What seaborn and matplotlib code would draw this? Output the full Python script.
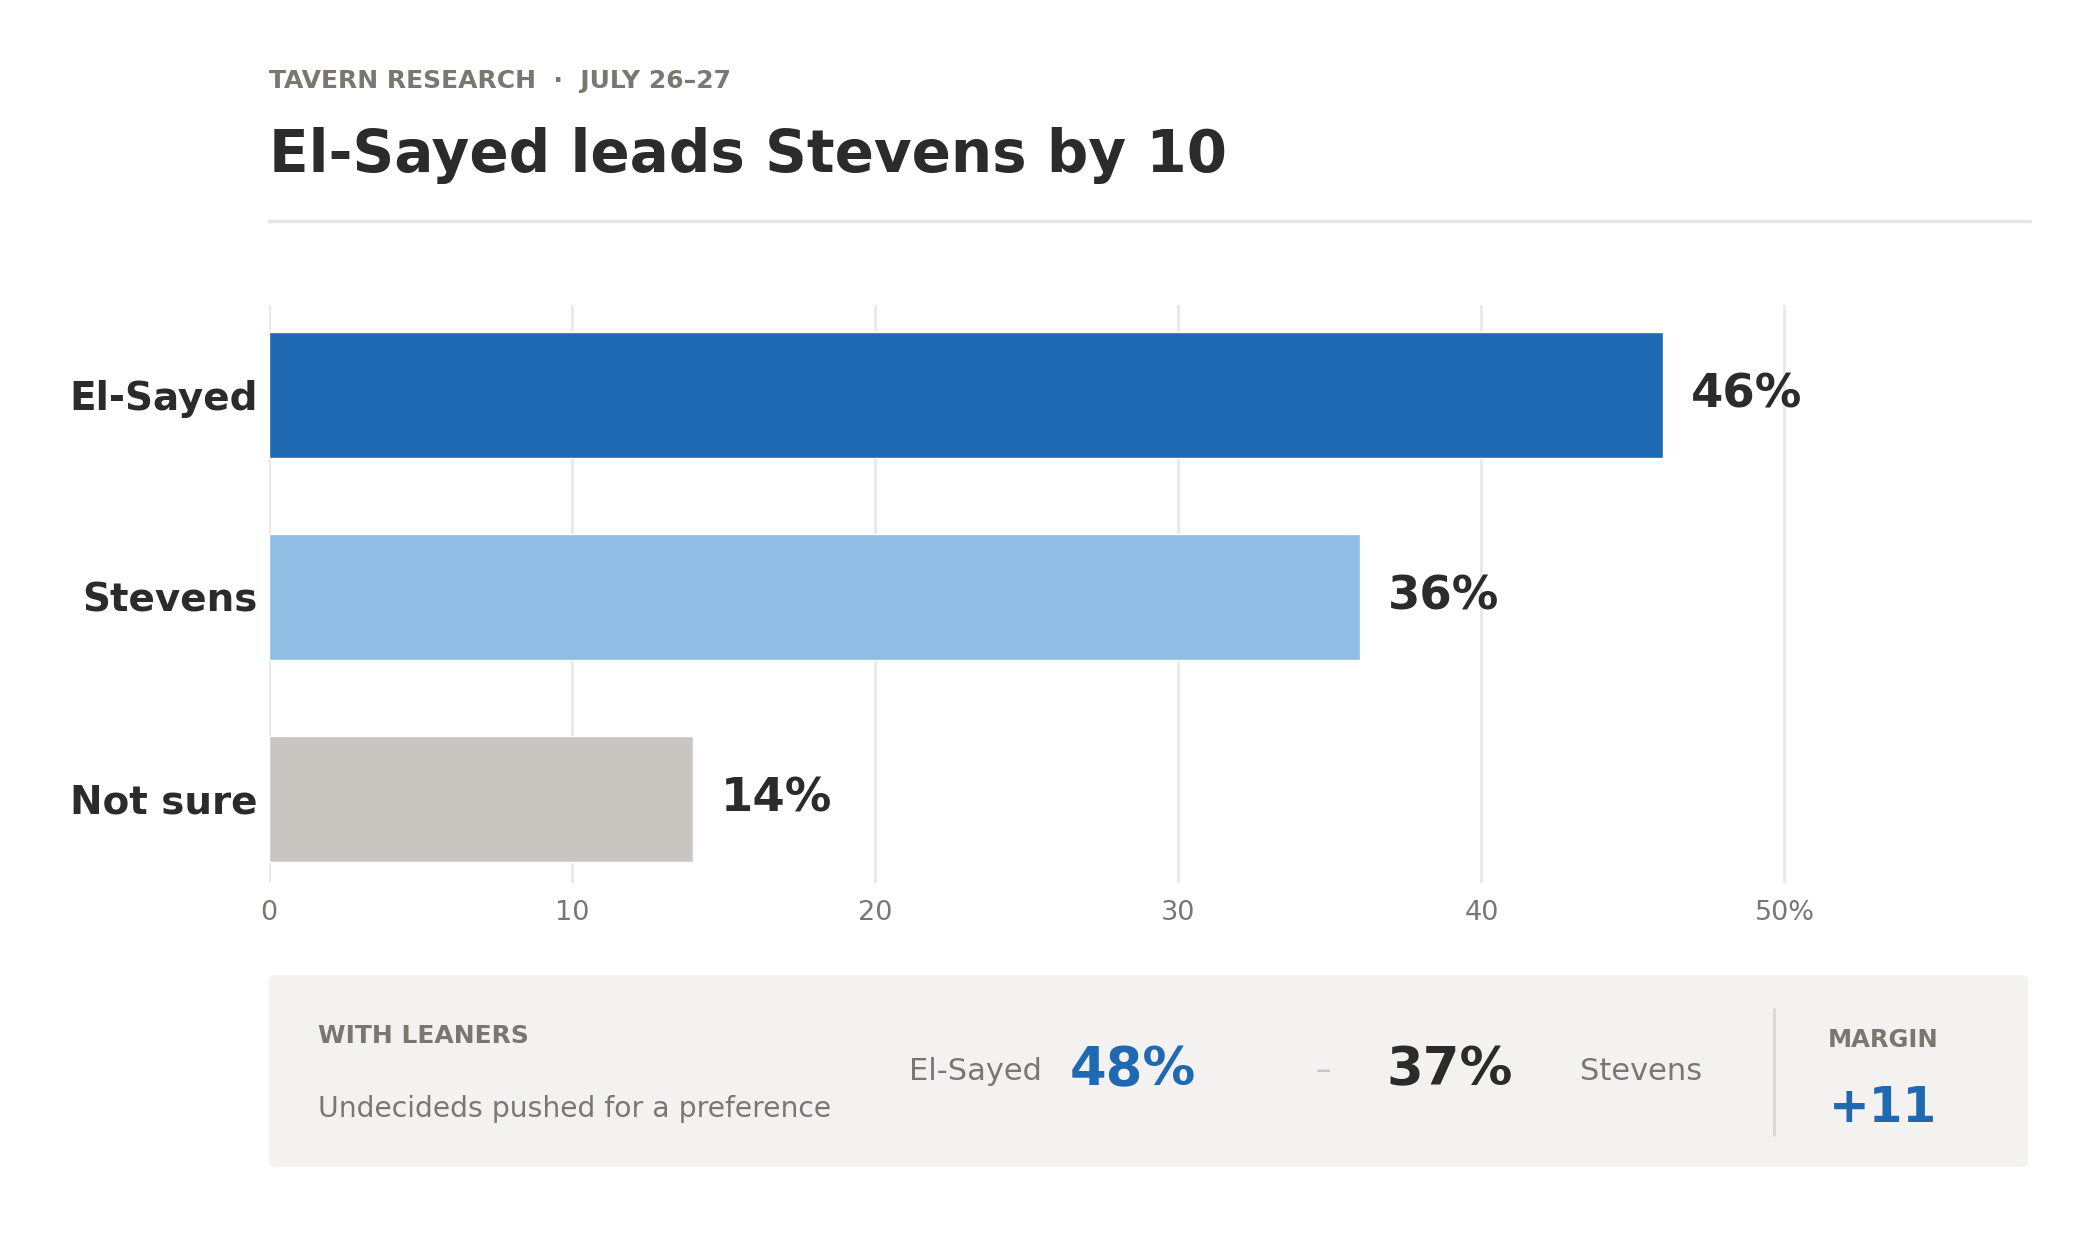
import matplotlib
matplotlib.use("Agg")
import matplotlib.pyplot as plt
from matplotlib.patches import FancyBboxPatch
from matplotlib.lines import Line2D
import seaborn as sns
import pandas as pd

# ---- data ----
categories = ["El-Sayed", "Stevens", "Not sure"]
values = [46, 36, 14]
bar_colors = ["#1f69b2", "#8fbde3", "#c9c6c1"]
x_ticks = [0, 10, 20, 30, 40, 50]
x_tick_labels = ["0", "10", "20", "30", "40", "50%"]
leaner_names = ["El-Sayed", "Stevens"]
leaner_values = [48, 37]
margin_value = 11

title = "El-Sayed leads Stevens by 10"
kicker = "TAVERN RESEARCH  \u00b7  JULY 26\u201327"

DARK = "#2b2b2b"
GRAY = "#7a7770"
BLUE = "#1f69b2"

sns.set_theme(style="white")
plt.rcParams['font.family'] = ['DejaVu Sans']

W, H = 2098, 1237
fig = plt.figure(figsize=(W / 100, H / 100), dpi=100)
fig.patch.set_facecolor("white")

def fx(px):
    return px / W

def fy(py):
    return 1 - py / H

ax = fig.add_axes([fx(269), fy(883), fx(2030) - fx(269), fy(305) - fy(883)])

df = pd.DataFrame({"cat": categories, "val": values})
sns.barplot(data=df, y="cat", x="val", hue="cat", palette=bar_colors,
            orient="h", legend=False, width=0.625, saturation=1, ax=ax, zorder=2)

ax.set_xlim(0, 58.1)
ax.set_ylim(2.417, -0.444)
ax.set_xticks(x_ticks)
ax.set_xticklabels(x_tick_labels, fontsize=19.5, color=GRAY)
ax.tick_params(axis="x", length=0, pad=12)
ax.tick_params(axis="y", length=0, pad=8)
for lab in ax.get_yticklabels():
    lab.set_fontsize(28)
    lab.set_fontweight("bold")
    lab.set_color(DARK)
ax.set_xlabel("")
ax.set_ylabel("")
for s in ax.spines.values():
    s.set_visible(False)
ax.grid(axis="x", color="#e8e8e8", linewidth=2, zorder=0)
ax.grid(axis="y", visible=False)
ax.set_axisbelow(True)

for i, v in enumerate(values):
    ax.annotate(f"{v}%", xy=(v, i), xytext=(20, 0), textcoords="offset points",
                ha="left", va="center", fontsize=33.5, fontweight="bold", color=DARK)

# header
fig.text(fx(269), fy(81), kicker, fontsize=18, fontweight="bold", color=GRAY,
         ha="left", va="center")
fig.text(fx(269), fy(155), title, fontsize=41.8, fontweight="bold", color=DARK,
         ha="left", va="center")
fig.add_artist(Line2D([fx(269), fx(2030)], [fy(221), fy(221)], color="#e6e6e6",
                      linewidth=2.5, transform=fig.transFigure))

# bottom box
box = FancyBboxPatch((fx(269), fy(1167)), fx(2028) - fx(269), fy(975) - fy(1167),
                     boxstyle="round,pad=0,rounding_size=0.004",
                     transform=fig.transFigure, facecolor="#f3f2f0",
                     edgecolor="none")
fig.add_artist(box)

fig.text(fx(318), fy(1036), "WITH LEANERS", fontsize=18, fontweight="bold",
         color=GRAY, ha="left", va="center")
fig.text(fx(318), fy(1109), "Undecideds pushed for a preference", fontsize=20.3,
         color=GRAY, ha="left", va="center")

fig.text(fx(1042), fy(1071), leaner_names[0], fontsize=22, color=GRAY,
         ha="right", va="center")
fig.text(fx(1070), fy(1070), f"{leaner_values[0]}%", fontsize=38,
         fontweight="bold", color=BLUE, ha="left", va="center")
fig.text(fx(1323), fy(1071), "\u2013", fontsize=22, color="#c8c5c0",
         ha="center", va="center")
fig.text(fx(1513), fy(1070), f"{leaner_values[1]}%", fontsize=38,
         fontweight="bold", color=DARK, ha="right", va="center")
fig.text(fx(1580), fy(1071), leaner_names[1], fontsize=22, color=GRAY,
         ha="left", va="center")

fig.add_artist(Line2D([fx(1774), fx(1774)], [fy(1009), fy(1135)], color="#d9d7d3",
                      linewidth=2, transform=fig.transFigure))
fig.text(fx(1883), fy(1040), "MARGIN", fontsize=17.5, fontweight="bold",
         color=GRAY, ha="center", va="center")
fig.text(fx(1883), fy(1108), f"+{margin_value}", fontsize=35, fontweight="bold",
         color=BLUE, ha="center", va="center")

fig.savefig("out.png", dpi=100, facecolor="white")
